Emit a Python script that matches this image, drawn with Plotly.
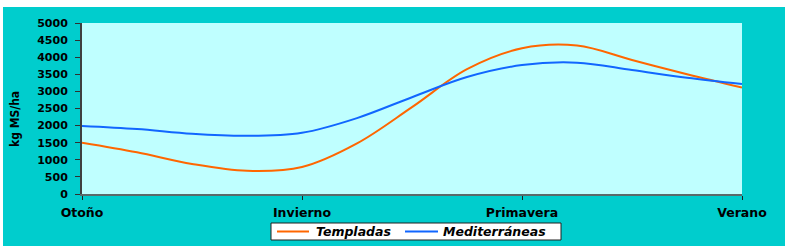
import plotly.graph_objects as go

# Data
estaciones = ["Otoño", "Invierno", "Primavera", "Verano"]
estacion_pos = [0, 1, 2, 3]
x_pos = [0, 0.25, 0.5, 0.75, 1, 1.25, 1.5, 1.75, 2, 2.25, 2.5, 2.75, 3]
templadas = [1500, 1220, 880, 680, 790, 1480, 2540, 3650, 4260, 4340, 3920, 3500, 3110]
mediterraneas = [1990, 1900, 1760, 1700, 1790, 2220, 2830, 3420, 3770, 3840, 3625, 3400, 3215]
y_ticks = [0, 500, 1000, 1500, 2000, 2500, 3000, 3500, 4000, 4500, 5000]
series_names = ["Templadas", "Mediterráneas"]
series_colors = ["#FF6600", "#1166FF"]

W, H = 785, 246
L, R, T, B = 82, 43, 23, 52
pw, ph = W - L - R, H - T - B


def px_x(p):
    return (p - L) / pw


def px_y(p):
    return (H - B - p) / ph


fig = go.Figure()
for name, vals, col in zip(series_names, [templadas, mediterraneas], series_colors):
    fig.add_trace(go.Scatter(x=x_pos, y=vals, mode="lines", name=name,
                             line=dict(color=col, width=2, shape="spline", smoothing=1.0)))

bold = dict(family="DejaVu Sans, Liberation Sans, Arial", size=11, color="#000000", weight="bold")
legfont = dict(family="DejaVu Sans, Liberation Sans, Arial", size=12.5, color="#000000",
               weight="bold", style="italic")

# Legend box (drawn as layout decoration)
leg_y = 231.5
shapes = [
    dict(type="rect", xref="paper", yref="paper", x0=px_x(0), x1=px_x(W), y0=px_y(7), y1=px_y(0),
         fillcolor="#FFFFFF", line=dict(width=0), layer="above"),
    dict(type="rect", xref="paper", yref="paper", x0=px_x(0), x1=px_x(3), y0=px_y(H), y1=px_y(0),
         fillcolor="#FFFFFF", line=dict(width=0), layer="above"),
    dict(type="rect", xref="paper", yref="paper", x0=px_x(271), x1=px_x(561), y0=px_y(240), y1=px_y(223),
         fillcolor="#FFFFFF", line=dict(color="#202020", width=1), layer="above"),
]
annotations = [dict(text="kg MS/ha", xref="paper", yref="paper", x=px_x(15), y=px_y(119),
                    xanchor="center", yanchor="middle", textangle=-90, showarrow=False,
                    font=dict(family="Liberation Sans Narrow, DejaVu Sans Condensed, Arial Narrow, sans-serif",
                              size=12, color="#000000", weight="bold"))]
legend_items = [(277, 309, 315), (405, 438, 442)]
for (lx0, lx1, tx), name, col in zip(legend_items, series_names, series_colors):
    shapes.append(dict(type="line", xref="paper", yref="paper", x0=px_x(lx0), x1=px_x(lx1),
                       y0=px_y(leg_y), y1=px_y(leg_y), line=dict(color=col, width=2), layer="above"))
    annotations.append(dict(text=name, xref="paper", yref="paper", x=px_x(tx), y=px_y(leg_y),
                            xanchor="left", yanchor="middle", showarrow=False, font=legfont,
                            borderpad=0))

fig.update_layout(
    width=W, height=H,
    margin=dict(l=L, r=R, t=T, b=B, pad=0, autoexpand=False),
    paper_bgcolor="#00CDCD",
    plot_bgcolor="#BFFFFF",
    showlegend=False,
    xaxis=dict(range=[0, 3], tickmode="array", tickvals=estacion_pos, ticktext=estaciones,
               showgrid=False, zeroline=False, showline=True, linecolor="#5A6A6A", linewidth=2,
               ticks="outside", ticklen=4, tickcolor="#202020", tickwidth=1,
               tickfont=dict(bold, size=12.5), ticklabelstandoff=2),
    yaxis=dict(range=[0, 5000], tickmode="array", tickvals=y_ticks,
               showgrid=False, zeroline=False, showline=True, linecolor="#404040", linewidth=2,
               ticks="outside", ticklen=5, tickcolor="#303030", tickwidth=1,
               tickfont=bold, ticklabelstandoff=5),
    annotations=annotations,
    shapes=shapes,
)

fig.write_html("out.html")
